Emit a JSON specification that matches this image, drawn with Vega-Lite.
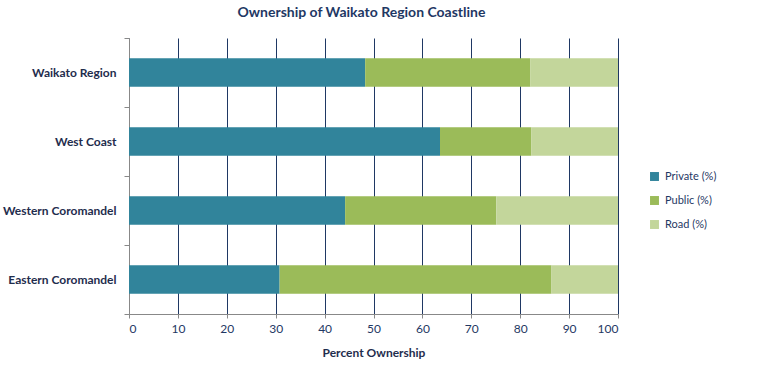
{
  "$schema": "https://vega.github.io/schema/vega-lite/v6.json",
  "width": 489,
  "height": 276,
  "autosize": "none",
  "padding": {"left": 129, "top": 38, "right": 165, "bottom": 69},
  "background": "white",
  "title": {
    "text": "Ownership of Waikato Region Coastline",
    "font": "Lato",
    "fontSize": 14,
    "fontWeight": "bold",
    "color": "#1F3864",
    "anchor": "middle",
    "dx": -12,
    "offset": 12
  },
  "data": {
    "values": [
      {"Region": "Waikato Region", "Type": "Private (%)", "Percent": 48.3},
      {"Region": "Waikato Region", "Type": "Public (%)", "Percent": 33.8},
      {"Region": "Waikato Region", "Type": "Road (%)", "Percent": 17.9},
      {"Region": "West Coast", "Type": "Private (%)", "Percent": 63.6},
      {"Region": "West Coast", "Type": "Public (%)", "Percent": 18.7},
      {"Region": "West Coast", "Type": "Road (%)", "Percent": 17.7},
      {"Region": "Western Coromandel", "Type": "Private (%)", "Percent": 44.2},
      {"Region": "Western Coromandel", "Type": "Public (%)", "Percent": 30.9},
      {"Region": "Western Coromandel", "Type": "Road (%)", "Percent": 24.9},
      {"Region": "Eastern Coromandel", "Type": "Private (%)", "Percent": 30.8},
      {"Region": "Eastern Coromandel", "Type": "Public (%)", "Percent": 55.6},
      {"Region": "Eastern Coromandel", "Type": "Road (%)", "Percent": 13.6}
    ]
  },
  "mark": {"type": "bar", "height": {"band": 0.41}},
  "encoding": {
    "y": {
      "field": "Region",
      "type": "nominal",
      "sort": ["Waikato Region", "West Coast", "Western Coromandel", "Eastern Coromandel"],
      "scale": {"paddingInner": 0, "paddingOuter": 0},
      "axis": {
        "title": null,
        "domainColor": "#888888",
        "tickColor": "#888888",
        "tickSize": 5,
        "tickBand": "extent",
        "labelPadding": 8,
        "labelFont": "Lato",
        "labelFontSize": 12,
        "labelFontWeight": "bold",
        "labelColor": "#1F2D4D",
        "grid": false
      }
    },
    "x": {
      "field": "Percent",
      "type": "quantitative",
      "stack": "zero",
      "scale": {"domain": [0, 100], "nice": false},
      "axis": {
        "title": "Percent Ownership",
        "values": [0, 10, 20, 30, 40, 50, 60, 70, 80, 90, 100],
        "grid": true,
        "gridColor": "#1F3864",
        "gridOpacity": 1,
        "gridWidth": 1,
        "domainColor": "#888888",
        "tickColor": "#888888",
        "tickSize": 4,
        "labelPadding": 5,
        "labelFont": "Lato",
        "labelFontSize": 12,
        "labelColor": "#1F3864",
        "titleFont": "Lato",
        "titleFontSize": 12,
        "titleFontWeight": "bold",
        "titleColor": "#1F2D4D",
        "titlePadding": 13
      }
    },
    "color": {
      "field": "Type",
      "type": "nominal",
      "scale": {
        "domain": ["Private (%)", "Public (%)", "Road (%)"],
        "range": ["#31849B", "#9BBB59", "#C3D69B"]
      },
      "legend": {
        "title": null,
        "orient": "none",
        "legendX": 520,
        "legendY": 133,
        "symbolType": "square",
        "symbolSize": 80,
        "symbolStrokeWidth": 0,
        "rowPadding": 12,
        "labelFont": "Lato",
        "labelFontSize": 11,
        "labelColor": "#1F3864",
        "labelOffset": 5
      }
    }
  },
  "config": {"view": {"stroke": null}}
}
